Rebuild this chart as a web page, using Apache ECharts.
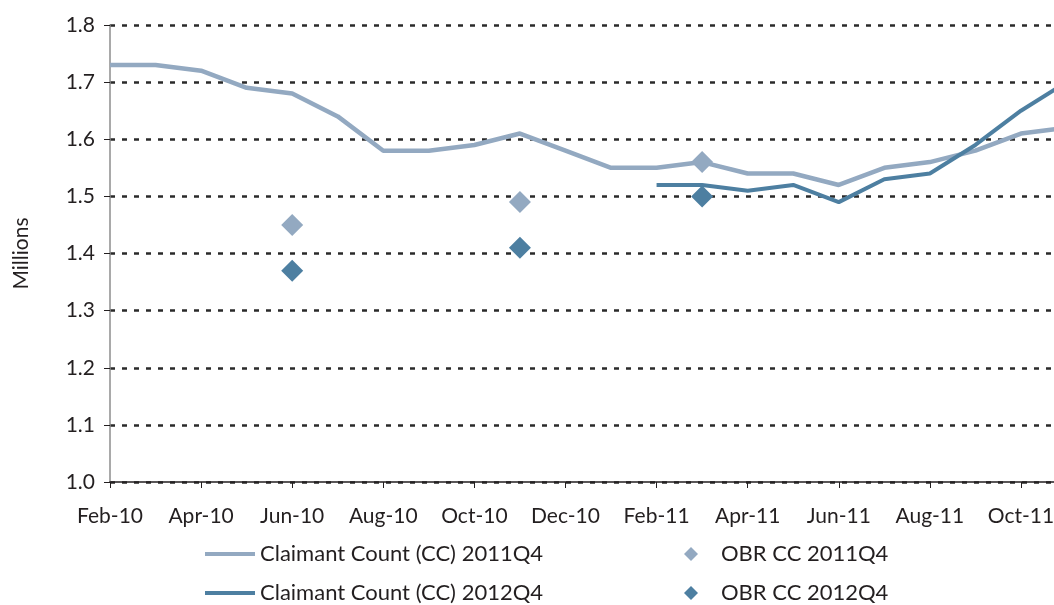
<!DOCTYPE html>
<html>
<head>
<meta charset="utf-8">
<script src="https://cdn.jsdelivr.net/npm/echarts@6/dist/echarts.min.js"></script>
<style>
  html, body { margin: 0; padding: 0; background: #fff; overflow: hidden; }
  /* 比窗口宽一点，让 Nov-11 落在可见区域外（原图右侧被裁掉） */
  #chart { width: 1067px; height: 605px; }
</style>
</head>
<body>
<div id="chart"></div>
<script>
  // 月份（最后一个 Nov-11 在图外被截掉）
  var months = ['Feb-10', 'Mar-10', 'Apr-10', 'May-10', 'Jun-10', 'Jul-10', 'Aug-10', 'Sep-10',
    'Oct-10', 'Nov-10', 'Dec-10', 'Jan-11', 'Feb-11', 'Mar-11', 'Apr-11', 'May-11', 'Jun-11',
    'Jul-11', 'Aug-11', 'Sep-11', 'Oct-11', 'Nov-11']
  var cc2011 = [1.73, 1.73, 1.72, 1.69, 1.68, 1.64, 1.58, 1.58, 1.59, 1.61, 1.58, 1.55,
    1.55, 1.56, 1.54, 1.54, 1.52, 1.55, 1.56, 1.58, 1.61, 1.62]
  var cc2012 = [null, null, null, null, null, null, null, null, null, null, null, null,
    1.52, 1.52, 1.51, 1.52, 1.49, 1.53, 1.54, 1.59, 1.65, 1.70]
  var obr2011 = [null, null, null, null, 1.45, null, null, null, null, 1.49, null, null,
    null, 1.56, null, null, null, null, null, null, null, null]
  var obr2012 = [null, null, null, null, 1.37, null, null, null, null, 1.41, null, null,
    null, 1.50, null, null, null, null, null, null, null, null]
  var yTicks = [1.0, 1.8, 0.1] // min, max, interval

  var light = '#93a9c1'
  var dark = '#4d7fa1'
  var font = 'Lato'

  var myChart = echarts.init(document.getElementById('chart'))
  myChart.setOption({
    animation: false,
    textStyle: { fontFamily: font, color: '#231f20' },
    grid: { left: 110, top: 25, right: 0.5, bottom: 123 },
    legend: [{
      orient: 'vertical',
      left: 205,
      top: 543,
      height: 100,
      padding: 0,
      itemWidth: 50,
      itemHeight: 4,
      itemGap: 17,
      icon: 'rect',
      textStyle: { fontSize: 22, color: '#231f20', fontFamily: font },
      data: ['Claimant Count (CC) 2011Q4', 'Claimant Count (CC) 2012Q4']
    }, {
      orient: 'vertical',
      left: 684,
      top: 543,
      height: 100,
      padding: 0,
      itemWidth: 14,
      itemHeight: 14,
      itemGap: 17,
      icon: 'diamond',
      textStyle: { fontSize: 22, color: '#231f20', fontFamily: font, padding: [0, 0, 0, 18] },
      data: ['OBR CC 2011Q4', 'OBR CC 2012Q4']
    }],
    xAxis: {
      type: 'category',
      boundaryGap: false,
      data: months,
      axisLine: { lineStyle: { color: '#231f20', width: 1.5 } },
      axisTick: { interval: 1, length: 6, lineStyle: { color: '#231f20' } },
      axisLabel: { interval: 1, margin: 24, fontSize: 21, color: '#231f20' },
      splitLine: { show: false },
      z: 5
    },
    yAxis: {
      type: 'value',
      min: yTicks[0],
      max: yTicks[1],
      interval: yTicks[2],
      name: 'Millions',
      nameLocation: 'middle',
      nameRotate: 90,
      nameGap: 78,
      nameTextStyle: { fontSize: 21, color: '#231f20' },
      axisLine: { show: true, lineStyle: { color: '#8c8c8c', width: 1.5 } },
      axisTick: { show: true, length: 6, lineStyle: { color: '#231f20' } },
      axisLabel: {
        margin: 15,
        fontSize: 21,
        color: '#231f20',
        formatter: function (v) { return v.toFixed(1) }
      },
      splitLine: { lineStyle: { color: '#2a2a2a', width: 2.5, type: [5, 7] } }
    },
    series: [{
      name: 'Claimant Count (CC) 2011Q4',
      type: 'line',
      data: cc2011,
      symbol: 'none',
      lineStyle: { color: light, width: 4.5 },
      itemStyle: { color: light },
      z: 2
    }, {
      name: 'Claimant Count (CC) 2012Q4',
      type: 'line',
      data: cc2012,
      symbol: 'none',
      lineStyle: { color: dark, width: 4 },
      itemStyle: { color: dark },
      z: 3
    }, {
      name: 'OBR CC 2011Q4',
      type: 'scatter',
      data: obr2011,
      symbol: 'diamond',
      symbolSize: 22,
      itemStyle: { color: light, opacity: 1 },
      z: 4
    }, {
      name: 'OBR CC 2012Q4',
      type: 'scatter',
      data: obr2012,
      symbol: 'diamond',
      symbolSize: 22,
      itemStyle: { color: dark, opacity: 1 },
      z: 4
    }]
  })
</script>
</body>
</html>
